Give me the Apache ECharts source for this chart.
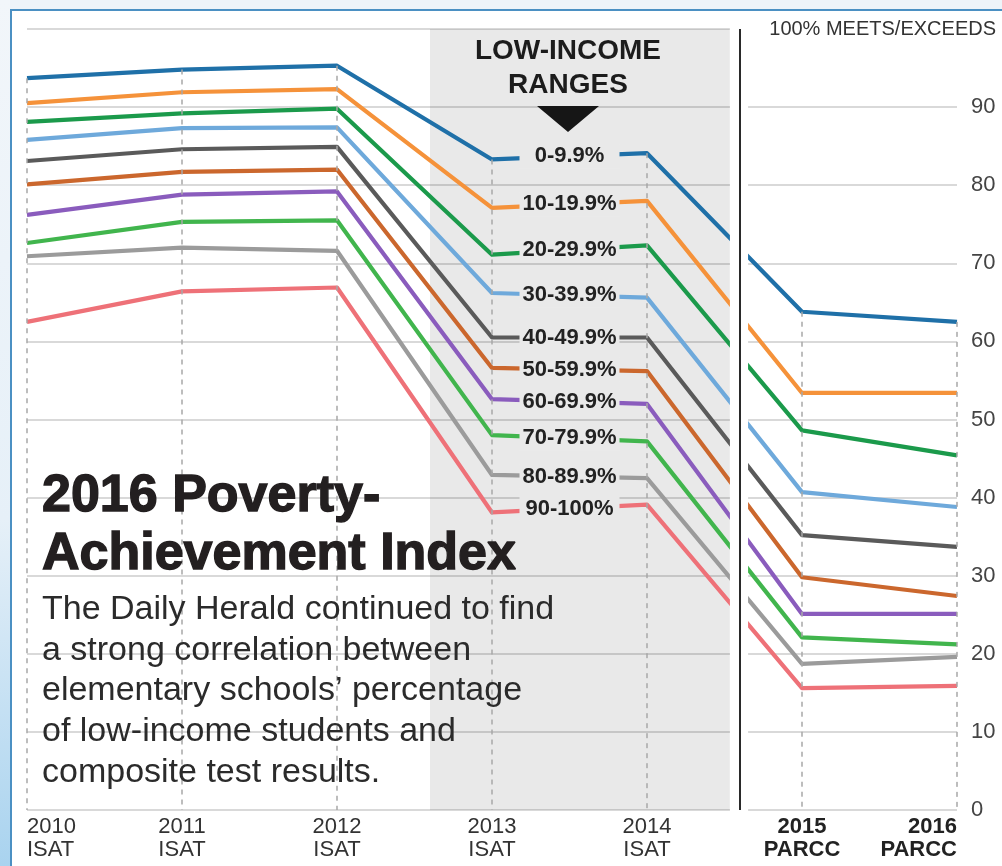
<!DOCTYPE html>
<html>
<head>
<meta charset="utf-8">
<script src="https://cdn.jsdelivr.net/npm/echarts@6/dist/echarts.min.js"></script>
<style>
  html, body { margin: 0; padding: 0; width: 1002px; height: 866px; overflow: hidden; background: #eef4f9; }
  #strip { position: absolute; left: 0; top: 0; width: 10px; height: 866px;
           background: linear-gradient(to bottom, #f2f6fa 0%, #e6f0f8 60%, #a9d3ef 100%); }
  #frame { position: absolute; left: 10px; top: 9px; width: 1010px; height: 880px;
           background: #ffffff; border-top: 2px solid #4b90c3; border-left: 2px solid #4b90c3; box-sizing: border-box; }
  #chart { position: absolute; left: 0; top: 0; width: 1002px; height: 866px; }
</style>
</head>
<body>
<div id="strip"></div>
<div id="frame"></div>
<div id="chart"></div>
<script>
// ---------------- data ----------------
const years = [2010, 2011, 2012, 2013, 2014, 2015, 2016];
const yearLabels = ['2010', '2011', '2012', '2013', '2014', '2015', '2016'];
const testLabels = ['ISAT', 'ISAT', 'ISAT', 'ISAT', 'ISAT', 'PARCC', 'PARCC'];
const ranges = ['0-9.9%', '10-19.9%', '20-29.9%', '30-39.9%', '40-49.9%',
                '50-59.9%', '60-69.9%', '70-79.9%', '80-89.9%', '90-100%'];
const r00 = [93.7, 94.8, 95.3, 83.3, 84.1, 63.8, 62.5];
const r10 = [90.5, 91.9, 92.3, 77.1, 78.0, 53.4, 53.4];
const r20 = [88.1, 89.2, 89.8, 71.1, 72.3, 48.6, 45.4];
const r30 = [85.8, 87.3, 87.4, 66.2, 65.6, 40.7, 38.8];
const r40 = [83.1, 84.6, 84.9, 60.5, 60.5, 35.2, 33.7];
const r50 = [80.1, 81.7, 82.0, 56.6, 56.2, 29.8, 27.4];
const r60 = [76.2, 78.8, 79.2, 52.6, 52.0, 25.1, 25.1];
const r70 = [72.6, 75.3, 75.5, 48.0, 47.2, 22.1, 21.2];
const r80 = [70.9, 72.0, 71.6, 42.9, 42.5, 18.7, 19.6];
const r90 = [62.5, 66.4, 66.9, 38.1, 39.1, 15.6, 15.9];
const yTickMax = 100;
const titleLines = ['2016 Poverty-', 'Achievement Index'];
const bodyLines = ['The Daily Herald continued to find', 'a strong correlation between',
  'elementary schools\u2019 percentage', 'of low-income students and', 'composite test results.'];
const headLines = ['LOW-INCOME', 'RANGES'];
const axisTitle = '100% MEETS/EXCEEDS';

// ---------------- styling / layout ----------------
const seriesValues = [r00, r10, r20, r30, r40, r50, r60, r70, r80, r90];
const colors = ['#1f70a8', '#f5923a', '#1b9a4b', '#6ea9db', '#5a5a5a',
                '#cb672d', '#8a5cbd', '#41b54d', '#9b9b9b', '#ee7178'];
const FF = '"Liberation Sans", Arial, sans-serif';
const bandColor = 'rgba(0,0,0,0.085)';
const boxColor = '#e9e9e9';
const bandFrom = 2012.6, bandTo = 2014.535, gapTo = 2014.652, sepAt = 2014.6;

const lineSeries = seriesValues.map((vals, i) => ({
  name: ranges[i],
  type: 'line',
  z: 3,
  showSymbol: false,
  silent: true,
  lineStyle: { color: colors[i], width: 4.2, join: 'round' },
  data: years.map((y, k) => [y, vals[k]]),
  markPoint: {
    silent: true,
    symbol: 'rect',
    symbolSize: [100, 24],
    itemStyle: { color: boxColor },
    label: { show: true, position: 'inside', formatter: '{b}', fontFamily: FF,
             fontSize: 22, fontWeight: 'bold', color: '#222' },
    data: [{ name: ranges[i], coord: [(years[3] + years[4]) / 2, (vals[3] + vals[4]) / 2] }]
  }
}));

const guides = {
  type: 'line', z: 1, silent: true, data: [],
  markArea: {
    silent: true,
    itemStyle: { color: bandColor },
    data: [[{ xAxis: bandFrom }, { xAxis: bandTo }]]
  },
  markLine: {
    silent: true, symbol: ['none', 'none'], animation: false,
    label: { show: false },
    lineStyle: { color: '#a8a8a8', width: 1.5, type: [5, 5] },
    data: years.map((y, k) => [{ coord: [y, r00[k]] }, { coord: [y, 0] }])
  }
};

const separator = {
  type: 'line', z: 8, silent: true, data: [],
  markLine: {
    silent: true, symbol: ['none', 'none'], animation: false,
    label: { show: false },
    lineStyle: { color: '#2a2a2a', width: 2, type: 'solid' },
    data: [[{ coord: [sepAt, 0] }, { coord: [sepAt, 100] }]]
  }
};

const chart = echarts.init(document.getElementById('chart'), null, { renderer: 'canvas' });
const textGraphics = [
  { type: 'text', z: 100, style: { text: titleLines.join('\n'), x: 42, y: 468,
      font: 'bold 52px ' + FF, lineHeight: 58, fill: '#231f20',
      stroke: '#231f20', lineWidth: 1.4, align: 'left', verticalAlign: 'top' } },
  { type: 'text', z: 100, style: { text: bodyLines.join('\n'), x: 42, y: 589,
      font: '34px ' + FF, lineHeight: 40.8, fill: '#2b2b2b', align: 'left', verticalAlign: 'top' } },
  { type: 'text', z: 100, style: { text: headLines.join('\n'), x: 568, y: 35,
      font: 'bold 28px ' + FF, lineHeight: 33.5, fill: '#1c1c1c', align: 'center', verticalAlign: 'top' } },
  { type: 'polygon', z: 100, shape: { points: [[537, 106], [599, 106], [568, 132]] },
    style: { fill: '#161616' } },
  { type: 'text', z: 100, style: { text: axisTitle, x: 996, y: 29,
      font: '20px ' + FF, fill: '#333', align: 'right', verticalAlign: 'middle' } }
];

chart.setOption({
  animation: false,
  backgroundColor: 'transparent',
  grid: { left: 27, right: 45, top: 29, bottom: 56, containLabel: false },
  xAxis: {
    type: 'value', min: years[0], max: years[years.length - 1], interval: 1,
    axisLine: { show: false }, axisTick: { show: false }, splitLine: { show: false },
    axisLabel: {
      margin: 5,
      alignMinLabel: 'left', alignMaxLabel: 'right',
      formatter: v => {
        const k = years.indexOf(v);
        if (k < 0) return '';
        const st = testLabels[k] === 'PARCC' ? 'b' : 'a';
        return '{' + st + '|' + yearLabels[k] + '}\n{' + st + '|' + testLabels[k] + '}';
      },
      rich: {
        a: { fontFamily: FF, fontSize: 22, color: '#333', lineHeight: 23 },
        b: { fontFamily: FF, fontSize: 22, fontWeight: 'bold', color: '#222', lineHeight: 23 }
      }
    }
  },
  yAxis: {
    type: 'value', min: 0, max: yTickMax, interval: 10, position: 'right',
    axisLine: { show: false }, axisTick: { show: false },
    splitLine: { lineStyle: { color: '#cccccc', width: 1.5 } },
    axisLabel: { margin: 14, fontFamily: FF, fontSize: 22, color: '#444',
                 formatter: v => (v === yTickMax ? '' : String(v)) }
  },
  graphic: textGraphics,
  series: [guides, ...lineSeries, separator]
});

// white masks: the break between the two test eras, and the 100 line on the PARCC side
const P = (x, y) => chart.convertToPixel({ gridIndex: 0 }, [x, y]);
const a = P(bandTo, 100), b = P(gapTo, 0), c = P(years[years.length - 1], 100);
chart.setOption({
  graphic: textGraphics.concat([
    { type: 'rect', z: 5, silent: true,
      shape: { x: a[0], y: a[1] - 3, width: b[0] - a[0], height: b[1] - a[1] + 6 },
      style: { fill: '#ffffff' } },
    { type: 'rect', z: 5, silent: true,
      shape: { x: a[0], y: a[1] - 3, width: c[0] - a[0] + 4, height: 6 },
      style: { fill: '#ffffff' } }
  ])
});
</script>
</body>
</html>
